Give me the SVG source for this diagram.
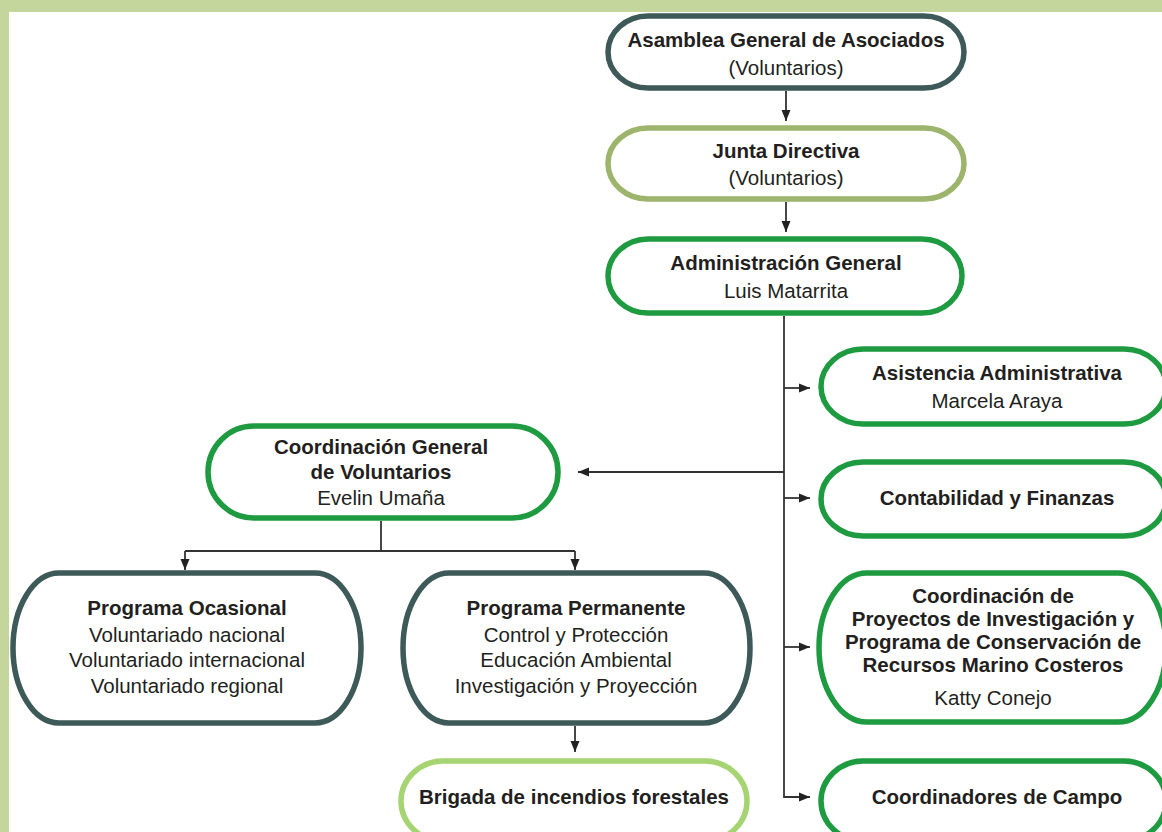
<svg xmlns="http://www.w3.org/2000/svg" width="1162" height="832" viewBox="0 0 1162 832">
<style>
.n{fill:#fff;stroke-width:5.5}
.slate{stroke:#3D5A58}
.olive{stroke:#9CB46B}
.green{stroke:#1E9B40}
.lgreen{stroke:#A7D472}
text{font-family:"Liberation Sans",Arial,sans-serif;font-size:20.5px;fill:#231F20;text-anchor:middle}
.b{font-weight:bold}
.c{fill:none;stroke:#333;stroke-width:1.8}
</style>
<defs>
<marker id="ah" markerUnits="userSpaceOnUse" markerWidth="12" markerHeight="10" refX="11" refY="5" orient="auto">
<path d="M0,0.5 L11,5 L0,9.5 Z" fill="#222"/>
</marker>
</defs>
<rect x="0" y="0" width="1162" height="832" fill="#fff"/>
<rect x="0" y="0" width="1162" height="12" fill="#C4D69B"/>
<rect x="0" y="0" width="9" height="832" fill="#C4D69B"/>

<g id="connectors">
<path class="c" d="M786,91 V121" marker-end="url(#ah)"/>
<path class="c" d="M786,202 V232" marker-end="url(#ah)"/>
<path class="c" d="M784,316 V797 H810" marker-end="url(#ah)"/>
<path class="c" d="M784,388 H810" marker-end="url(#ah)"/>
<path class="c" d="M784,498 H810" marker-end="url(#ah)"/>
<path class="c" d="M784,647 H810" marker-end="url(#ah)"/>
<path class="c" d="M784,472 H578" marker-end="url(#ah)"/>
<path class="c" d="M381,521 V551"/>
<path class="c" d="M185,551 H575"/>
<path class="c" d="M185,551 V570" marker-end="url(#ah)"/>
<path class="c" d="M575,551 V570" marker-end="url(#ah)"/>
<path class="c" d="M575,726 V752" marker-end="url(#ah)"/>
</g>

<g id="asamblea">
<rect class="n slate" x="608" y="16" width="356" height="72" rx="40" ry="36"/>
<text class="b" x="786" y="47">Asamblea General de Asociados</text>
<text x="786" y="75">(Voluntarios)</text>
</g>
<g id="junta">
<rect class="n olive" x="608" y="128" width="356" height="71" rx="40" ry="35.5"/>
<text class="b" x="786" y="158">Junta Directiva</text>
<text x="786" y="185">(Voluntarios)</text>
</g>
<g id="admin">
<rect class="n green" x="608" y="239" width="354" height="74" rx="40" ry="37"/>
<text class="b" x="786" y="270">Administración General</text>
<text x="786" y="298">Luis Matarrita</text>
</g>
<g id="asistencia">
<rect class="n green" x="821" y="349" width="345" height="75" rx="42" ry="37.5"/>
<text class="b" x="997" y="380">Asistencia Administrativa</text>
<text x="997" y="408">Marcela Araya</text>
</g>
<g id="contabilidad">
<rect class="n green" x="821" y="462" width="345" height="74" rx="42" ry="37"/>
<text class="b" x="997" y="505">Contabilidad y Finanzas</text>
</g>
<g id="proyectos">
<rect class="n green" x="819" y="573" width="347" height="149" rx="48" ry="74.5"/>
<text class="b" x="993" y="603">Coordinación de</text>
<text class="b" x="993" y="626">Proyectos de Investigación y</text>
<text class="b" x="993" y="649">Programa de Conservación de</text>
<text class="b" x="993" y="672">Recursos Marino Costeros</text>
<text x="993" y="705">Katty Conejo</text>
</g>
<g id="campo">
<rect class="n green" x="821" y="761" width="345" height="80" rx="42" ry="40"/>
<text class="b" x="997" y="804">Coordinadores de Campo</text>
</g>
<g id="coordgeneral">
<rect class="n green" x="208" y="426" width="350" height="92" rx="46" ry="46"/>
<text class="b" x="381" y="454">Coordinación General</text>
<text class="b" x="381" y="479">de Voluntarios</text>
<text x="381" y="505">Evelin Umaña</text>
</g>
<g id="ocasional">
<rect class="n slate" x="13" y="573" width="348" height="150" rx="46" ry="75"/>
<text class="b" x="187" y="615">Programa Ocasional</text>
<text x="187" y="642">Voluntariado nacional</text>
<text x="187" y="667">Voluntariado internacional</text>
<text x="187" y="693">Voluntariado regional</text>
</g>
<g id="permanente">
<rect class="n slate" x="403" y="573" width="347" height="150" rx="46" ry="75"/>
<text class="b" x="576" y="615">Programa Permanente</text>
<text x="576" y="642">Control y Protección</text>
<text x="576" y="667">Educación Ambiental</text>
<text x="576" y="693">Investigación y Proyección</text>
</g>
<g id="brigada">
<rect class="n lgreen" x="401" y="761" width="346" height="80" rx="42" ry="40"/>
<text class="b" x="574" y="804">Brigada de incendios forestales</text>
</g>
</svg>
